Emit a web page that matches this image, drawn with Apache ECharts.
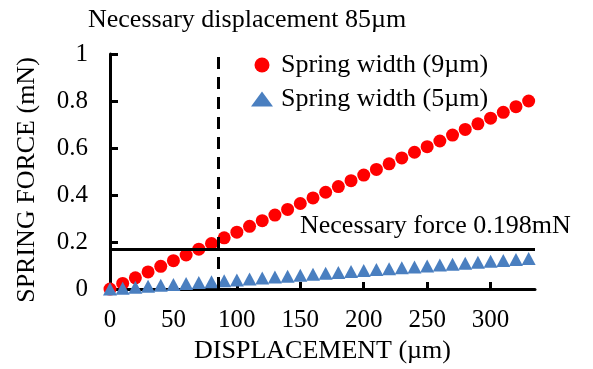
<!DOCTYPE html>
<html>
<head>
<meta charset="utf-8">
<script src="https://cdn.jsdelivr.net/npm/echarts@6/dist/echarts.min.js"></script>
<style>html,body{margin:0;padding:0;background:#fff}#c{width:593px;height:369px}</style>
</head>
<body>
<div id="c"></div>
<script>
var displacement = [0,10,20,30,40,50,60,70,80,90,100,110,120,130,140,150,160,170,180,190,200,210,220,230,240,250,260,270,280,290,300,310,320,330];
var force9um = [0,0.024,0.048,0.073,0.097,0.121,0.145,0.170,0.194,0.218,0.242,0.267,0.291,0.315,0.339,0.364,0.388,0.412,0.436,0.461,0.485,0.509,0.533,0.558,0.582,0.606,0.630,0.655,0.679,0.703,0.727,0.752,0.776,0.800];
var force5um = [0,0.004,0.008,0.012,0.016,0.020,0.024,0.028,0.031,0.035,0.039,0.043,0.047,0.051,0.055,0.059,0.063,0.067,0.071,0.075,0.079,0.083,0.087,0.091,0.094,0.098,0.102,0.106,0.110,0.114,0.118,0.122,0.126,0.130];
var seriesNames = ['Spring width (9\u00b5m)', 'Spring width (5\u00b5m)'];
var necessaryDisplacement = 85;
var necessaryForceLine = 0.173;
var titleText = 'Necessary displacement 85\u00b5m';
var forceText = 'Necessary force 0.198mN';
var xName = 'DISPLACEMENT (\u00b5m)';
var yName = 'SPRING FORCE (mN)';

var FONT = '"Liberation Serif", "Times New Roman", serif';
var FS = 26;
var chart = echarts.init(document.getElementById('c'), null, {renderer: 'canvas'});
function pairs(xs, ys){ return xs.map(function(x,i){ return [x, ys[i]]; }); }

chart.setOption({
  animation: false,
  backgroundColor: '#fff',
  textStyle: {fontFamily: FONT, color: '#000'},
  legend: {
    orient: 'vertical', left: 251, top: 52, itemGap: 8, padding: 0,
    itemWidth: 22, itemHeight: 15,
    itemStyle: {opacity: 1},
    textStyle: {fontFamily: FONT, fontSize: FS, color: '#000', lineHeight: 26, padding: [0, 0, 0, 3]},
    data: [{name: seriesNames[0], icon: 'circle'}, {name: seriesNames[1], icon: 'triangle'}]
  },
  grid: {left: 110, right: 58, top: 54, bottom: 77},
  xAxis: {
    type: 'value', min: 0, max: 335, interval: 50,
    name: xName, nameLocation: 'middle', nameGap: 47,
    nameTextStyle: {fontFamily: FONT, fontSize: FS, color: '#000'},
    axisLine: {show: true, lineStyle: {color: '#000', width: 3}},
    axisTick: {show: true, inside: true, length: 7, lineStyle: {color: '#000', width: 3}},
    axisLabel: {margin: 19, fontFamily: FONT, fontSize: 25, color: '#000', showMaxLabel: false,
      formatter: function(v){ return v % 50 === 0 ? String(v) : ''; }},
    splitLine: {show: false}
  },
  yAxis: {
    type: 'value', min: 0, max: 1, interval: 0.2,
    axisLine: {show: true, lineStyle: {color: '#000', width: 3}},
    axisTick: {show: true, inside: true, length: 8, lineStyle: {color: '#000', width: 3}},
    axisLabel: {margin: 22, fontFamily: FONT, fontSize: 25, color: '#000',
      formatter: function(v){ return String(Math.round(v*10)/10); }},
    splitLine: {show: false}
  },
  series: [
    {
      name: seriesNames[0], type: 'scatter', symbol: 'circle', symbolSize: 13,
      itemStyle: {color: '#ff0000', opacity: 1}, z: 3,
      data: pairs(displacement, force9um),
      markLine: {
        silent: true, symbol: 'none', label: {show: false},
        lineStyle: {color: '#000', width: 3, type: [12, 8], opacity: 1},
        data: [{xAxis: necessaryDisplacement}]
      }
    },
    {
      name: seriesNames[1], type: 'scatter', symbol: 'triangle', symbolSize: [14, 13],
      itemStyle: {color: '#4a7fc0', opacity: 1}, z: 3,
      data: pairs(displacement, force5um),
      markLine: {
        silent: true, symbol: 'none', label: {show: false},
        lineStyle: {color: '#000', width: 3, type: 'solid', opacity: 1},
        data: [{yAxis: necessaryForceLine}]
      }
    }
  ],
  graphic: [
    {type: 'text', left: 88, top: 7, style: {text: titleText, font: FS + 'px ' + FONT, fill: '#000'}},
    {type: 'text', left: 300, top: 213, style: {text: forceText, font: FS + 'px ' + FONT, fill: '#000'}},
    {type: 'text', x: 27, y: 180, rotation: Math.PI / 2,
     style: {text: yName, font: FS + 'px ' + FONT, fill: '#000', align: 'center', verticalAlign: 'middle'}}
  ]
});
</script>
</body>
</html>
